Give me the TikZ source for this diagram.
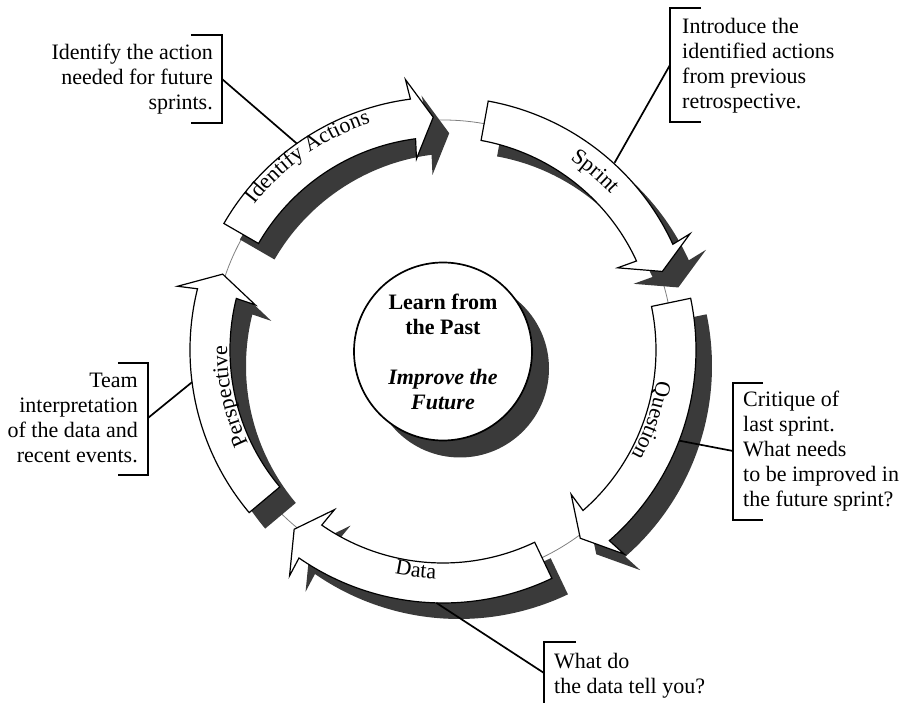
\documentclass[tikz,border=0pt]{standalone}
\usepackage{fontspec}
\setmainfont{Liberation Serif}
\usetikzlibrary{decorations.text}

\newcommand{\ringfont}{\fontsize{22}{25}\selectfont}
% band of one stage: start angle, end angle (clockwise), head at the end
\newcommand{\cyclepath}[2]{%
  (#1:213) -- (#1:253)
  arc[start angle=#1, end angle={#2+5}, radius=253]
  -- ({#2+5.5}:273) -- (#2:233) -- ({#2+5.5}:193) -- ({#2+5}:213)
  arc[start angle={#2+5}, end angle=#1, radius=213] -- cycle}

\definecolor{shadowgray}{RGB}{58,58,58}

\tikzset{
  cycleline/.style={draw=gray, line width=0.8pt},
  stagearrow/.style={draw=black, fill=white, line width=1.2pt},
  stageshadow/.style={fill=shadowgray},
  stagelabel/.style={decorate, decoration={text along path, text align=center, text={|\ringfont|#1}}},
  hub/.style={circle, draw, fill=white, line width=1.7pt, minimum size=178pt, inner sep=0pt, align=center},
  note/.style={inner sep=0pt},
  bracket/.style={line width=2pt},
  lead/.style={line width=1.7pt}
}

\begin{document}
\begin{tikzpicture}[x=1pt, y=1pt, font=\ringfont]
  \useasboundingbox (-443,-353) rectangle (464,350);

  \draw[cycleline] (0,0) circle (230);

  % shadows first
  \begin{scope}[shift={(16,-16)}]
    \fill[stageshadow] \cyclepath{150}{92.4};
    \fill[stageshadow] \cyclepath{79.7}{19.7};
    \fill[stageshadow] \cyclepath{11.8}{-53.9};
    \fill[stageshadow] \cyclepath{-64.5}{-129.7};
    \fill[stageshadow] \cyclepath{-140}{-199};
  \end{scope}

  \draw[stagearrow] \cyclepath{150}{92.4};
  \draw[stagearrow] \cyclepath{79.7}{19.7};
  \draw[stagearrow] \cyclepath{11.8}{-53.9};
  \draw[stagearrow] \cyclepath{-64.5}{-129.7};
  \draw[stagearrow] \cyclepath{-140}{-199};

  % names along the bands
  \path[stagelabel={Identify Actions}] (155:238) arc[start angle=155, end angle=95, radius=238];
  \path[stagelabel={Sprint}] (79.6:229) arc[start angle=79.6, end angle=19.6, radius=229];
  \path[stagelabel={Question}] (11.3:216) arc[start angle=11.3, end angle=-48.7, radius=216];
  \path[stagelabel={Data}] (-127:229) arc[start angle=-127, end angle=-67, radius=229];
  \path[stagelabel={Perspective}] (-137.8:216) arc[start angle=-137.8, end angle=-197.8, radius=216];

  % centre
  \fill[stageshadow] (17,-18.5) circle (89);
  \node[hub] (hub) at (0,-1.5) {\textbf{Learn from}\\\textbf{the Past}\\[25pt]\textbf{\textit{Improve the}}\\\textbf{\textit{Future}}};

  % notes
  \node[note, align=right, anchor=east] (actnote) at (-230,271) {Identify the action\\needed for future\\sprints.};
  \draw[bracket] (-252,315) -- (-221,315) -- (-221,227) -- (-252,227);
  \coordinate (actjoin) at (-221,271);
  \coordinate (actpoint) at (125.3:253);
  \draw[lead] (actjoin) -- (actpoint);

  \node[note, align=left, anchor=west] (sprintnote) at (239,284.5) {Introduce the\\identified actions\\from previous\\retrospective.};
  \draw[bracket] (258,342) -- (227,342) -- (227,228) -- (258,228);
  \coordinate (sprintjoin) at (227,285);
  \coordinate (sprintpoint) at (47.5:254);
  \draw[lead] (sprintjoin) -- (sprintpoint);

  \node[note, align=left, anchor=west] (questnote) at (300,-101) {Critique of\\last sprint.\\What needs\\to be improved in\\the future sprint?};
  \draw[bracket] (320,-33) -- (290,-33) -- (290,-170) -- (320,-170);
  \coordinate (questjoin) at (290,-101);
  \coordinate (questpoint) at (-21:253);
  \draw[lead] (questjoin) -- (questpoint);

  \node[note, align=left, anchor=west] (datanote) at (111,-325.5) {What do\\the data tell you?};
  \draw[bracket] (133,-292) -- (101,-292) -- (101,-353);
  \coordinate (datajoin) at (101,-323);
  \coordinate (datapoint) at (-91.5:253);
  \draw[lead] (datajoin) -- (datapoint);

  \node[note, align=right, anchor=east] (perspnote) at (-305,-67.5) {Team\\interpretation\\of the data and\\recent events.};
  \draw[bracket] (-325,-13) -- (-295,-13) -- (-295,-125) -- (-325,-125);
  \coordinate (perspjoin) at (-295,-68);
  \coordinate (persppoint) at (-172.7:253);
  \draw[lead] (perspjoin) -- (persppoint);
\end{tikzpicture}
\end{document}
